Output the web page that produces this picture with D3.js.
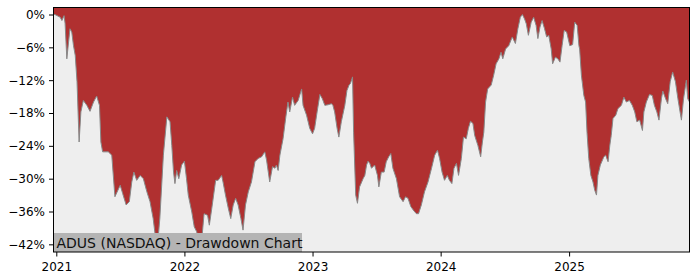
<!DOCTYPE html>
<html>
<head>
<meta charset="utf-8">
<script src="https://cdn.jsdelivr.net/npm/d3@7"></script>
<style>
  body { margin: 0; background: #fff; }
  text { font-family: "DejaVu Sans", sans-serif; }
</style>
</head>
<body>
<svg id="chart" width="700" height="280"></svg>
<script>
// drawdown readings, percent below the running high
var dates = [
  "2020-12-24","2020-12-28","2021-01-12","2021-01-17","2021-01-23","2021-01-26","2021-01-31","2021-02-05",
  "2021-02-09","2021-02-14","2021-02-19","2021-02-24","2021-03-01","2021-03-07","2021-03-12","2021-03-19",
  "2021-03-29","2021-04-07","2021-04-17","2021-04-26","2021-05-04","2021-05-08","2021-05-13","2021-05-29",
  "2021-06-08","2021-06-17","2021-07-02","2021-07-09","2021-07-19","2021-07-28","2021-08-04","2021-08-10",
  "2021-08-18","2021-08-28","2021-09-06","2021-09-16","2021-09-25","2021-10-04","2021-10-12","2021-10-18",
  "2021-10-23","2021-11-02","2021-11-12","2021-11-21","2021-11-26","2021-12-01","2021-12-05","2021-12-10",
  "2021-12-16","2021-12-24",
  "2022-01-01","2022-01-07","2022-01-12","2022-01-22","2022-01-29","2022-02-05","2022-02-10","2022-02-17",
  "2022-02-21","2022-02-26","2022-03-08","2022-03-13","2022-03-20","2022-03-31","2022-04-07","2022-04-17",
  "2022-04-21","2022-04-28","2022-05-06","2022-05-13","2022-05-20","2022-05-27","2022-06-03","2022-06-11",
  "2022-06-17","2022-06-24","2022-07-02","2022-07-11","2022-07-21","2022-07-30","2022-08-09","2022-08-18",
  "2022-08-23","2022-09-01","2022-09-09","2022-09-16","2022-09-20","2022-09-25","2022-09-30","2022-10-09",
  "2022-10-17","2022-10-23","2022-10-28","2022-11-05","2022-11-11","2022-11-21","2022-12-01","2022-12-05",
  "2022-12-15","2022-12-24",
  "2023-01-01","2023-01-07","2023-01-14","2023-01-22","2023-01-29","2023-02-05","2023-02-14","2023-02-24",
  "2023-02-28","2023-03-05","2023-03-12","2023-03-17","2023-03-24","2023-04-03","2023-04-09","2023-04-15",
  "2023-04-19","2023-04-25","2023-04-28","2023-05-04","2023-05-09","2023-05-15","2023-05-25","2023-05-30",
  "2023-06-04","2023-06-08","2023-06-13","2023-06-18","2023-06-27","2023-07-05","2023-07-09","2023-07-16",
  "2023-07-24","2023-07-30","2023-08-06","2023-08-12","2023-08-18","2023-08-28","2023-09-06","2023-09-16",
  "2023-09-23","2023-09-30","2023-10-08","2023-10-17","2023-10-24","2023-10-30","2023-11-07","2023-11-16",
  "2023-11-26","2023-12-06","2023-12-15","2023-12-23","2023-12-29",
  "2024-01-05","2024-01-12","2024-01-20","2024-01-26","2024-02-02","2024-02-08","2024-02-15","2024-02-21",
  "2024-02-29","2024-03-06","2024-03-14","2024-03-20","2024-03-26","2024-04-02","2024-04-07","2024-04-16",
  "2024-04-24","2024-04-29","2024-05-03","2024-05-08","2024-05-14","2024-05-24","2024-05-31","2024-06-07",
  "2024-06-15","2024-06-21","2024-06-26","2024-07-04","2024-07-13","2024-07-23","2024-08-01","2024-08-08",
  "2024-08-15","2024-08-21","2024-08-27","2024-09-01","2024-09-07","2024-09-15","2024-09-22","2024-09-29",
  "2024-10-04","2024-10-10","2024-10-16","2024-10-23","2024-10-29","2024-11-04","2024-11-11","2024-11-15",
  "2024-11-23","2024-11-30","2024-12-06","2024-12-12","2024-12-18","2024-12-25",
  "2025-01-03","2025-01-11","2025-01-17","2025-01-24","2025-01-29","2025-01-31","2025-02-05","2025-02-12",
  "2025-02-17","2025-02-21","2025-02-26","2025-03-04","2025-03-10","2025-03-15","2025-03-20","2025-03-24",
  "2025-03-31","2025-04-06","2025-04-10","2025-04-15","2025-04-22","2025-04-27","2025-05-01","2025-05-06",
  "2025-05-14","2025-05-20","2025-05-30","2025-06-06","2025-06-13","2025-06-22","2025-06-30","2025-07-07",
  "2025-07-13","2025-07-21","2025-07-29","2025-08-02","2025-08-09","2025-08-18","2025-08-26","2025-09-01",
  "2025-09-08","2025-09-14","2025-09-21","2025-09-25","2025-10-03","2025-10-09","2025-10-16","2025-10-23",
  "2025-10-31","2025-11-07","2025-11-17","2025-11-23","2025-12-01","2025-12-05","2025-12-10"
];
var drawdown = [
  0, 0, -0.5, -1.1, -0.2, -1.6, -8.1, -5,
  -2.6, -3.2, -5.7, -7.5, -12.3, -23.3, -17.8, -15.7,
  -16.6, -17.7, -16, -14.9, -16.6, -23.3, -25.1, -25.1,
  -25.7, -33.3, -31.2, -32.7, -34.8, -34.2, -30.6, -28.8,
  -30.3, -29.4, -30, -32.4, -34.2, -37.3, -41.5, -41,
  -37.2, -25.7, -18.7, -19.6, -23.9, -28.8, -30.9, -28.5,
  -30, -27.5,
  -26.8, -30, -33, -36.1, -38.8, -39.7, -41.5, -42.3,
  -40, -36.4, -36.7, -38.5, -35.4, -30.3, -30.3, -29.4,
  -30.6, -33, -35.4, -37.3, -34.8, -33.6, -34.8, -37.3,
  -39.4, -34.8, -32.4, -30.6, -26.9, -26.3, -26, -25.1,
  -26.6, -30.6, -27.8, -28.1, -27.5, -28.5, -25.7, -22.7,
  -18.7, -16, -17.8, -15.1, -16.6, -15.7, -13.6, -16.6,
  -18.4, -20.8,
  -21.8, -20.8, -17.8, -14.6, -15.4, -16.6, -16.5, -16.3,
  -16.6, -17.8, -20.8, -22.4, -19.6, -16.6, -13.9, -12.9,
  -12.6, -11.4, -21.5, -33, -34.5, -31.5, -30, -29.4,
  -27.5, -26.8, -27.2, -28.1, -27.5, -29.4, -31.5, -28.8,
  -28.8, -26.9, -26, -25.4, -28.1, -30, -33.3, -34.2,
  -33.3, -33.6, -35.1, -35.9, -36.4, -36.4, -34.8, -32.4,
  -30.6, -28.1, -25.7, -24.8, -26.3,
  -28.8, -30.3, -29.4, -30.3, -30.9, -28.1, -27.2, -29.4,
  -26.3, -22.4, -22.7, -20.8, -19.5, -19.9, -22.1, -23.9,
  -26, -23.3, -21.5, -16, -13.6, -12.9, -11.1, -9,
  -8.1, -6.9, -8.1, -6.3, -5.7, -4.1, -5.3, -2.6,
  -0.5, 0, -0.8, -1.7, -3.8, -1.4, -0.5, -2,
  -4.4, -2.3, -1.1, -2.6, -4.1, -3.8, -6.3, -9,
  -7.8, -8.1, -8.7, -5.7, -2.9, -3.2,
  -5.7, -5.5, -1.4, -2, -5.7, -6.3, -11.1, -14.8,
  -16, -21.5, -26.3, -29.4, -30.6, -32.1, -33, -29.4,
  -27.5, -26.6, -26, -25.7, -26.9, -23.9, -22.1, -19,
  -18.4, -17.2, -16.6, -15.1, -16, -15.7, -16.6, -17.8,
  -19.6, -19.3, -21.2, -17.8, -16, -14.6, -14.8, -16.6,
  -17.8, -19.3, -15.4, -14, -15.4, -16.3, -12.3, -10.5,
  -12.3, -15.4, -19.3, -15.4, -12, -15.4, -16
];
var yTicks = [0, -6, -12, -18, -24, -30, -36, -42];
var xTickYears = ["2021", "2022", "2023", "2024", "2025"];
var title = "ADUS (NASDAQ) - Drawdown Chart";

var parse = d3.timeParse("%Y-%m-%d");
var data = dates.map(function (d, i) { return { date: parse(d), dd: drawdown[i] }; });

var plotLeft = 53.5, plotRight = 689.5, plotTop = 7.5, plotBottom = 252;
var svg = d3.select("#chart");

var x = d3.scaleTime()
  .domain(d3.extent(data, function (d) { return d.date; }))
  .range([plotLeft, plotRight]);
var y = d3.scaleLinear()
  .domain([-43.4, 1.28])
  .range([plotBottom, plotTop]);

svg.append("rect")
  .attr("x", plotLeft).attr("y", plotTop)
  .attr("width", plotRight - plotLeft).attr("height", plotBottom - plotTop)
  .attr("fill", "#eeeeee");

var area = d3.area()
  .x(function (d) { return x(d.date); })
  .y0(plotTop)
  .y1(function (d) { return y(d.dd); });

svg.append("path")
  .datum(data)
  .attr("d", area)
  .attr("fill", "#b03030");

var line = d3.line()
  .x(function (d) { return x(d.date); })
  .y(function (d) { return y(d.dd); });

svg.append("path")
  .datum(data)
  .attr("d", line)
  .attr("fill", "none")
  .attr("stroke", "#888")
  .attr("stroke-width", 1);

// label box in the bottom-left corner
svg.append("rect")
  .attr("x", plotLeft).attr("y", 233)
  .attr("width", 248.5).attr("height", plotBottom - 233)
  .attr("fill", "#b4b4b4");
svg.append("text")
  .attr("x", 56.5).attr("y", 247.5)
  .attr("font-size", "14px")
  .attr("fill", "#111")
  .text(title);

// frame
svg.append("rect")
  .attr("x", plotLeft).attr("y", plotTop)
  .attr("width", plotRight - plotLeft).attr("height", plotBottom - plotTop)
  .attr("fill", "none")
  .attr("stroke", "#000")
  .attr("stroke-width", 1);

var yAxis = d3.axisLeft(y)
  .tickValues(yTicks)
  .tickSize(4.5)
  .tickPadding(4)
  .tickFormat(function (d) { return (d < 0 ? "\u2212" + Math.abs(d) : d) + "%"; });

svg.append("g")
  .attr("transform", "translate(" + plotLeft + ",0)")
  .call(yAxis)
  .call(function (g) { g.select(".domain").remove(); })
  .call(function (g) {
    g.selectAll("text").attr("font-size", "12px").attr("fill", "#000")
      .style("font-family", "DejaVu Sans");
    g.selectAll("line").attr("stroke", "#000");
  });

var xAxis = d3.axisBottom(x)
  .tickValues(xTickYears.map(function (s) { return parse(s + "-01-01"); }))
  .tickSize(4.5)
  .tickPadding(5.5)
  .tickFormat(d3.timeFormat("%Y"));

svg.append("g")
  .attr("transform", "translate(0," + plotBottom + ")")
  .call(xAxis)
  .call(function (g) { g.select(".domain").remove(); })
  .call(function (g) {
    g.selectAll("text").attr("font-size", "12px").attr("fill", "#000")
      .style("font-family", "DejaVu Sans");
    g.selectAll("line").attr("stroke", "#000");
  });
</script>
</body>
</html>
